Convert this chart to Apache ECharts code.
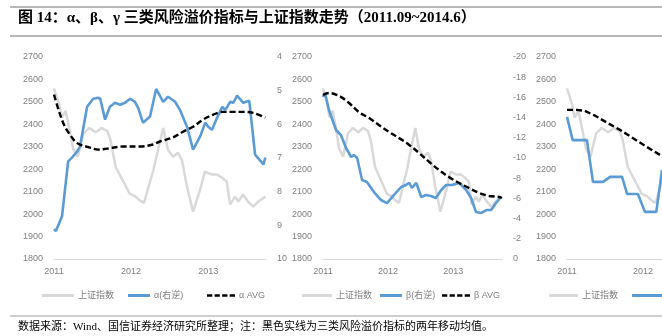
<!DOCTYPE html>
<html><head><meta charset="utf-8">
<script src="https://cdn.jsdelivr.net/npm/echarts@6/dist/echarts.min.js"></script>
<style>html,body{margin:0;padding:0;background:#fff}#c{width:662px;height:336px}</style>
</head><body><div id="c"></div>
<script>
// ---- data (x = months since Jan 2011) ----
var yearLabels = ['2011', '2012', '2013'];
var sseMonth = [0,0.8,1.2,1.8,2.4,3.0,3.7,4.6,5.5,6.5,7.4,8.3,8.8,9.6,10.7,11.8,12.6,13.4,14.0,14.6,15.5,16.3,17.0,17.75,18.5,19.3,19.9,20.7,21.65,22.75,23.5,24.6,25.4,26.2,26.9,27.4,28.2,28.7,29.4,30.2,31.0,31.8,32.9];
var sseIndex = [2560,2490,2430,2460,2380,2290,2256,2360,2384,2365,2384,2370,2330,2210,2150,2090,2080,2060,2050,2110,2200,2300,2384,2287,2256,2273,2242,2122,2011,2109,2189,2176,2176,2162,2144,2042,2078,2056,2087,2056,2033,2056,2078];

var alphaMonth = [0,0.3,1.25,2.2,2.8,3.6,4.05,5.15,6.1,6.85,7.2,7.95,8.7,9.5,10.3,11.05,11.85,12.6,13.1,13.85,14.95,15.9,17.0,17.75,18.85,19.6,20.7,21.65,22.75,23.55,24.0,24.6,25.4,26.2,26.65,27.45,27.9,28.5,29.45,30.4,31.3,32.6,32.9];
var alphaValue = [9.11,9.17,8.73,7.10,6.99,6.81,6.66,5.48,5.24,5.21,5.24,5.86,5.48,5.36,5.42,5.36,5.24,5.33,5.51,5.95,5.77,4.95,5.33,5.18,5.33,5.57,6.07,6.75,6.36,5.95,6.07,6.16,5.80,5.48,5.57,5.33,5.36,5.15,5.36,5.30,6.90,7.19,6.99];
var alphaAvgMonth = [0,0.95,1.7,2.5,3.3,4.05,5.6,6.85,8.25,10.75,13.4,15.4,16.5,18.5,20.1,21.65,23.2,24.8,26.3,27.9,29.4,31.0,32.9];
var alphaAvg = [5.12,5.71,6.07,6.31,6.51,6.60,6.69,6.75,6.72,6.66,6.66,6.60,6.51,6.39,6.22,6.07,5.86,5.71,5.63,5.63,5.63,5.66,5.80];

var betaMonth = [0,0.37,1.1,2.4,3.3,4.25,5.2,5.7,6.3,7.2,8.1,9.4,10.7,11.8,13.1,14.4,15.3,15.9,16.4,17.2,18.1,19.0,19.9,20.8,21.8,22.7,23.8,25.1,26.4,27.3,28.2,29.2,30.1,31.0,31.9,32.8];
var betaValue = [-16.04,-16.44,-14.75,-12.77,-12.28,-10.99,-10.10,-10.30,-10.00,-7.82,-7.62,-6.63,-5.84,-5.54,-6.34,-7.13,-7.33,-7.53,-7.03,-7.53,-6.14,-6.34,-6.24,-6.04,-6.83,-7.33,-7.33,-7.53,-6.83,-6.04,-4.65,-4.56,-4.85,-4.85,-5.54,-6.14];
var betaAvgMonth = [0,1.1,3.0,4.8,6.6,8.5,10.3,12.2,14.0,15.9,17.7,19.6,21.4,23.2,25.1,26.9,28.8,30.6,32.5,33.0];
var betaAvg = [-16.24,-16.44,-16.14,-15.45,-14.55,-13.96,-13.27,-12.57,-11.98,-11.29,-10.50,-9.60,-8.81,-8.12,-7.53,-7.03,-6.54,-6.24,-6.14,-6.04];

var gammaMonth = [0,0.9,3.15,4.1,5.7,6.8,8.7,9.5,11.2,12.3,14.1,15.0];
var gammaValue = [5.78,6.47,6.47,7.71,7.71,7.56,7.56,8.07,8.07,8.60,8.60,7.36];
var gammaAvgMonth = [0,1.5,2.8,4.5,6.5,8.5,10.5,12.5,14.7,15.0];
var gammaAvg = [5.57,5.57,5.60,5.75,5.97,6.18,6.42,6.66,6.91,6.94];

var leftTicks = {min: 1800, max: 2700, interval: 100};

// ---- build ----
function pairs(xs, ys) { return xs.map(function (x, i) { return [x, ys[i]]; }); }
var GRAY = '#D9D9D9', BLUE = '#5B9BD5', LBL = '#7F7F7F';
var FONT = "'Liberation Sans', 'Noto Sans CJK SC', sans-serif";

// third panel is cut off by the picture's right edge: only ~15 months are visible
var grids = [
  {left: 54, top: 57, width: 212, height: 202},
  {left: 323, top: 57, width: 179, height: 202},
  {left: 567, top: 57, width: 95, height: 202}
];
var xMax = [33, 33, 15];
var xAxes = grids.map(function (g, i) {
  return {
    type: 'value', gridIndex: i, min: 0, max: xMax[i], interval: 12,
    axisLine: {show: true, lineStyle: {color: GRAY, width: 1}},
    axisTick: {show: false}, splitLine: {show: false},
    axisLabel: {color: LBL, fontSize: 9, fontFamily: FONT, margin: 8, showMaxLabel: false,
      formatter: function (v) { return (v % 12 === 0 && yearLabels[v / 12]) || ''; }}
  };
});
function plain(v) { return String(v); }
function leftAxis(i) {
  return {type: 'value', gridIndex: i, position: 'left', min: leftTicks.min, max: leftTicks.max, interval: leftTicks.interval,
    axisLine: {show: false}, axisTick: {show: false}, splitLine: {show: false},
    axisLabel: {color: LBL, fontSize: 9, fontFamily: FONT, margin: 11, formatter: plain}};
}
var yAxes = [
  leftAxis(0),
  {type: 'value', gridIndex: 0, position: 'right', min: 4, max: 10, interval: 1, inverse: true,
    axisLine: {show: false}, axisTick: {show: false}, splitLine: {show: false},
    axisLabel: {color: LBL, fontSize: 9, fontFamily: FONT, margin: 11, formatter: plain}},
  leftAxis(1),
  {type: 'value', gridIndex: 1, position: 'right', min: -20, max: 0, interval: 2, inverse: true,
    axisLine: {show: false}, axisTick: {show: false}, splitLine: {show: false},
    axisLabel: {color: LBL, fontSize: 9, fontFamily: FONT, margin: 11, formatter: plain}},
  leftAxis(2),
  {type: 'value', gridIndex: 2, position: 'right', min: 4, max: 10, interval: 1, inverse: true, show: false}
];

function line(name, xi, yi, data, kind) {
  var s = {name: name, type: 'line', xAxisIndex: xi, yAxisIndex: yi, data: data,
    symbol: 'none', showSymbol: false, animation: false, clip: true};
  if (kind === 'gray') { s.lineStyle = {color: GRAY, width: 2.5}; s.itemStyle = {color: GRAY}; s.z = 2; }
  if (kind === 'blue') { s.lineStyle = {color: BLUE, width: 2.6}; s.itemStyle = {color: BLUE}; s.z = 3; }
  if (kind === 'dash') { s.lineStyle = {color: '#000', width: 2.4, type: [6, 3]}; s.itemStyle = {color: '#000'}; s.z = 4; s.smooth = 0.35; }
  return s;
}
var sse = pairs(sseMonth, sseIndex);
var series = [
  line('上证指数', 0, 0, sse, 'gray'),
  line('α(右逆)', 0, 1, pairs(alphaMonth, alphaValue), 'blue'),
  line('α AVG', 0, 1, pairs(alphaAvgMonth, alphaAvg), 'dash'),
  line('上证指数', 1, 2, sse, 'gray'),
  line('β(右逆)', 1, 3, pairs(betaMonth, betaValue), 'blue'),
  line('β AVG', 1, 3, pairs(betaAvgMonth, betaAvg), 'dash'),
  line('上证指数', 2, 4, sse, 'gray'),
  line('γ(右逆)', 2, 5, pairs(gammaMonth, gammaValue), 'blue'),
  line('γ AVG', 2, 5, pairs(gammaAvgMonth, gammaAvg), 'dash')
];
series[8].smooth = false;

var DASH_ICON = 'path://M0,0h7v3h-7zM10,0h7v3h-7zM20,0h7v3h-7zM30,0h7v3h-7z';
function leg(name, left, w, color, dashed) {
  return {data: [{name: name, icon: dashed ? DASH_ICON : 'rect'}], left: left, top: 291, itemWidth: w, itemHeight: 3,
    itemGap: 0, padding: 0, selectedMode: false, itemStyle: {color: color},
    textStyle: {color: LBL, fontSize: 9, fontFamily: FONT, padding: [0, 0, 0, -1]}};
}
var legends = [
  leg('上证指数', 42, 32, GRAY), leg('α(右逆)', 128, 22, BLUE), leg('α AVG', 207, 28, '#000', true),
  leg('上证指数', 302, 30, GRAY), leg('β(右逆)', 380, 22, BLUE), leg('β AVG', 442, 28, '#000', true),
  leg('上证指数', 549, 29, GRAY), leg('γ(右逆)', 632, 30, BLUE)
];

var TFONT = "'Liberation Serif', 'Noto Sans CJK SC', serif";
var option = {
  backgroundColor: '#fff', animation: false,
  grid: grids, xAxis: xAxes, yAxis: yAxes, series: series, legend: legends,
  graphic: [
    {type: 'line', shape: {x1: 10, y1: 7, x2: 662, y2: 7}, style: {stroke: '#A0A0A0', lineWidth: 1.5}},
    {type: 'text', left: 18, top: 11, style: {text: '图 14：α、β、γ 三类风险溢价指标与上证指数走势（2011.09~2014.6）',
      font: 'bold 15px ' + TFONT, fill: '#000'}},
    {type: 'line', shape: {x1: 10, y1: 36, x2: 662, y2: 36}, style: {stroke: '#A0A0A0', lineWidth: 1.5}},
    {type: 'line', shape: {x1: 10, y1: 316, x2: 662, y2: 316}, style: {stroke: '#A0A0A0', lineWidth: 1.2}},
    {type: 'text', left: 18, top: 322, style: {text: '数据来源：Wind、国信证券经济研究所整理；注：黑色实线为三类风险溢价指标的两年移动均值。',
      font: '11px ' + TFONT, fill: '#000'}}
  ]
};
var chart = echarts.init(document.getElementById('c'), null, {renderer: 'canvas'});
chart.setOption(option);
</script></body></html>
